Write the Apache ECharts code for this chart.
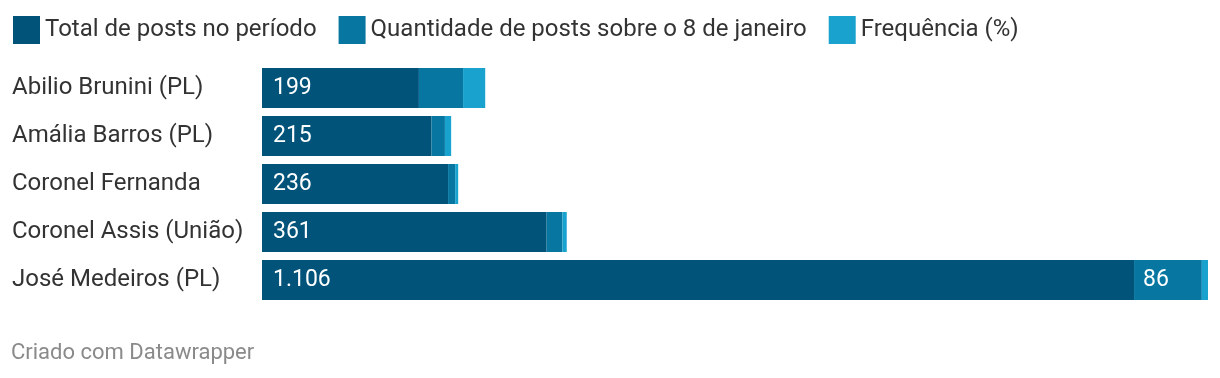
<!DOCTYPE html>
<html>
<head>
<meta charset="utf-8">
<script src="https://cdn.jsdelivr.net/npm/echarts@6/dist/echarts.min.js"></script>
<style>
	html, body { margin: 0; padding: 0; background: #fff; }
	#chart { width: 1220px; height: 378px; }
</style>
</head>
<body>
<div id="chart"></div>
<script>
const names = ['Abilio Brunini (PL)', 'Amália Barros (PL)', 'Coronel Fernanda', 'Coronel Assis (União)', 'José Medeiros (PL)'];
const totalPosts = [199, 215, 236, 361, 1106];
const postsJan8 = [56, 17, 9, 20, 86];
const frequency = [28.1, 7.9, 3.8, 5.5, 7.8];
const seriesNames = ['Total de posts no período', 'Quantidade de posts sobre o 8 de janeiro', 'Frequência (%)'];
const colors = ['#01537a', '#0777a1', '#1aa2cf'];

/* separador de milhar */
const fmt = v => String(v).replace(/\B(?=(\d{3})+(?!\d))/g, '.');

const chart = echarts.init(document.getElementById('chart'));
const maxSum = Math.max(...totalPosts.map((v, i) => v + postsJan8[i] + frequency[i]));

const labelStyle = {
	show: true,
	position: 'insideLeft',
	distance: 11,
	color: '#ffffff',
	fontSize: 23,
	fontFamily: 'Roboto'
};

chart.setOption({
	animation: false,
	textStyle: { fontFamily: 'Roboto' },
	legend: {
		left: 8,
		top: 11,
		itemWidth: 27,
		itemHeight: 28,
		itemGap: 22,
		icon: 'rect',
		textStyle: { fontSize: 24, color: '#333' },
		data: seriesNames
	},
	grid: { left: 262, right: 12, top: 64, bottom: 74 },
	xAxis: {
		type: 'value',
		min: 0,
		max: maxSum,
		show: false
	},
	yAxis: {
		type: 'category',
		inverse: true,
		data: names,
		axisLine: { show: false },
		axisTick: { show: false },
		axisLabel: {
			align: 'left',
			margin: 250,
			fontSize: 24,
			color: '#333'
		}
	},
	series: [
		{
			name: seriesNames[0],
			type: 'bar',
			stack: 'total',
			barWidth: 40,
			itemStyle: { color: colors[0] },
			label: Object.assign({}, labelStyle, { formatter: p => fmt(p.value) }),
			data: totalPosts
		},
		{
			name: seriesNames[1],
			type: 'bar',
			stack: 'total',
			barWidth: 40,
			itemStyle: { color: colors[1] },
			label: Object.assign({}, labelStyle, { distance: 9, formatter: p => p.value >= 80 ? fmt(p.value) : '' }),
			data: postsJan8
		},
		{
			name: seriesNames[2],
			type: 'bar',
			stack: 'total',
			barWidth: 40,
			itemStyle: { color: colors[2] },
			data: frequency
		}
	],
	graphic: [
		{
			type: 'text',
			left: 11,
			top: 342,
			style: {
				text: 'Criado com Datawrapper',
				fill: '#8a8a8a',
				fontSize: 22,
				fontFamily: 'Roboto'
			}
		}
	]
});
</script>
</body>
</html>
